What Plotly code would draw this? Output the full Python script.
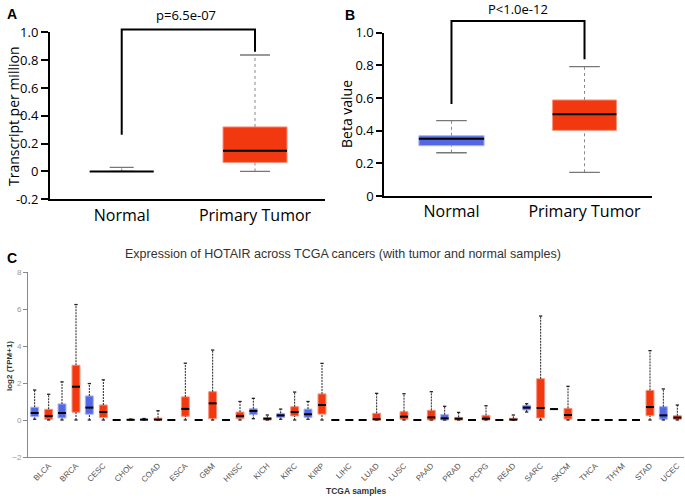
import plotly.graph_objects as go

W, H = 685, 498

# ---------------- data ----------------
ab_groups = ["Normal", "Primary Tumor"]
# panel A (Transcript per million): lo, q1, median, q3, hi
a_lo = [0.0, 0.0]
a_q1 = [0.0, 0.065]
a_med = [0.0, 0.148]
a_q3 = [0.0, 0.32]
a_hi = [0.029, 0.837]
a_p = "p=6.5e-07"

# panel B (Beta value)
b_lo = [0.265, 0.145]
b_q1 = [0.308, 0.402]
b_med = [0.351, 0.50]
b_q3 = [0.369, 0.588]
b_hi = [0.461, 0.792]
b_p = "P<1.0e-12"

# panel C (log2(TPM+1))
cancers = ["BLCA", "BRCA", "CESC", "CHOL", "COAD", "ESCA", "GBM", "HNSC", "KICH", "KIRC",
           "KIRP", "LIHC", "LUAD", "LUSC", "PAAD", "PRAD", "PCPG", "READ", "SARC", "SKCM",
           "THCA", "THYM", "STAD", "UCEC"]
n_lo = [0.04, 0, 0, 0, 0, 0, 0, 0, 0.07, 0.04, 0.04, 0, 0, 0, 0, 0, 0, 0, 0.43, 0.59, 0, 0, 0, 0]
n_q1 = [0.18, 0.11, 0.31, 0, 0, 0, 0, 0, 0.29, 0.13, 0.14, 0, 0, 0, 0, 0.0, 0, 0, 0.54, 0.59, 0, 0, 0, 0.04]
n_med = [0.38, 0.38, 0.67, 0, 0.02, 0, 0, 0, 0.49, 0.25, 0.31, 0, 0, 0, 0, 0.09, 0, 0, 0.67, 0.59, 0, 0, 0, 0.25]
n_q3 = [0.69, 0.87, 1.30, 0, 0.04, 0, 0, 0, 0.61, 0.36, 0.59, 0, 0, 0, 0, 0.29, 0, 0, 0.79, 0.59, 0, 0, 0, 0.72]
n_hi = [1.62, 2.06, 1.97, 0, 0.08, 0, 0, 0, 1.17, 0.59, 1.00, 0, 0, 0, 0, 0.74, 0, 0, 0.88, 0.59, 0, 0, 0, 1.68]

t_lo = [0] * 24
t_q1 = [0.04, 0.42, 0.13, 0, 0, 0.20, 0.07, 0.07, 0, 0.22, 0.32, 0, 0, 0.04, 0, 0, 0, 0, 0.11, 0.05, 0, 0, 0.23, 0.04]
t_med = [0.22, 1.80, 0.43, 0.01, 0.02, 0.60, 0.90, 0.22, 0.07, 0.43, 0.81, 0, 0.04, 0.18, 0.14, 0.07, 0.07, 0.02, 0.65, 0.27, 0, 0, 0.70, 0.13]
t_q3 = [0.58, 2.96, 0.81, 0.03, 0.10, 1.25, 1.53, 0.43, 0.13, 0.72, 1.41, 0.01, 0.36, 0.45, 0.52, 0.14, 0.25, 0.09, 2.23, 0.63, 0.01, 0.01, 1.60, 0.23]
t_hi = [1.39, 6.24, 2.17, 0.05, 0.50, 3.07, 3.78, 1.00, 0.27, 1.51, 3.06, 0.02, 1.44, 1.42, 1.53, 0.41, 0.77, 0.27, 5.62, 1.82, 0.02, 0.02, 3.75, 0.81]

c_title = "Expression of HOTAIR across TCGA cancers (with tumor and normal samples)"

# ---------------- styles ----------------
RED = "#F2380F"
RED_EDGE = "#F7907A"
BLUE = "#5468E6"
BLUE_EDGE = "#A9B2F2"
FONT = "Open Sans"
ARIAL = "Liberation Sans"


def px2paper_x(p):
    return p / W


def px2paper_y(p):
    return 1 - p / H


# axis layout geometry (pixels)
A_X = (50, 325); A_Y = (32.3, 199.3); A_XR = [-0.538, 1.525]; A_YR = [-0.2, 1.0]
B_X = (384.3, 651.7); B_Y = (32.7, 196); B_XR = [-0.505, 1.505]; B_YR = [0.0, 1.0]
C_X = (28, 684); C_Y = (272, 457); C_XR = [-0.5, 23.5]; C_YR = [-2, 8]


def mapper(xpx, ypx, xr, yr):
    def fx(v):
        return px2paper_x(xpx[0] + (v - xr[0]) / (xr[1] - xr[0]) * (xpx[1] - xpx[0]))

    def fy(v):
        return px2paper_y(ypx[1] - (v - yr[0]) / (yr[1] - yr[0]) * (ypx[1] - ypx[0]))
    return fx, fy


fig = go.Figure()


def add_boxes(xs, lo, q1, med, q3, hi, fill, edge, xa, ya, width, capw,
              wcolor, wdash, capcolor, medw=2):
    fig.add_trace(go.Bar(x=xs, y=[b - a for a, b in zip(q1, q3)], base=q1, width=width,
                         marker=dict(color=fill, line=dict(color=edge, width=1)),
                         xaxis=xa, yaxis=ya, showlegend=False, hoverinfo="skip"))
    wx, wy, cx, cy, mx, my = [], [], [], [], [], []
    for x, l, a, m, b, h in zip(xs, lo, q1, med, q3, hi):
        if h > b:
            wx += [x, x, None]; wy += [b, h, None]
            cx += [x - capw / 2, x + capw / 2, None]; cy += [h, h, None]
        if l < a:
            wx += [x, x, None]; wy += [l, a, None]
        cx += [x - capw / 2, x + capw / 2, None]; cy += [l, l, None]
        mx += [x - width / 2, x + width / 2, None]; my += [m, m, None]
    fig.add_trace(go.Scatter(x=wx, y=wy, mode="lines", line=dict(color=wcolor, width=1, dash=wdash),
                             xaxis=xa, yaxis=ya, showlegend=False, hoverinfo="skip"))
    fig.add_trace(go.Scatter(x=cx, y=cy, mode="lines", line=dict(color=capcolor, width=1.3),
                             xaxis=xa, yaxis=ya, showlegend=False, hoverinfo="skip"))
    fig.add_trace(go.Scatter(x=mx, y=my, mode="lines", line=dict(color="black", width=medw),
                             xaxis=xa, yaxis=ya, showlegend=False, hoverinfo="skip"))


# ---- panel A ----
add_boxes([0], a_lo[:1], a_q1[:1], a_med[:1], a_q3[:1], a_hi[:1], BLUE, BLUE_EDGE, "x", "y",
          0.48, 0.18, "#888", "dot", "#777")
add_boxes([1], a_lo[1:], a_q1[1:], a_med[1:], a_q3[1:], a_hi[1:], RED, RED_EDGE, "x", "y",
          0.48, 0.225, "#888", "dot", "#777")
# ---- panel B ----
add_boxes([0], b_lo[:1], b_q1[:1], b_med[:1], b_q3[:1], b_hi[:1], BLUE, BLUE_EDGE, "x2", "y2",
          0.49, 0.23, "#888", "dot", "#777")
add_boxes([1], b_lo[1:], b_q1[1:], b_med[1:], b_q3[1:], b_hi[1:], RED, RED_EDGE, "x2", "y2",
          0.48, 0.23, "#888", "dot", "#777")
# ---- panel C ----
OFF = 0.256
add_boxes([i - OFF for i in range(len(cancers))], n_lo, n_q1, n_med, n_q3, n_hi, BLUE, BLUE_EDGE,
          "x3", "y3", 0.29, 0.12, "#222", "2px,1px", "#222")
add_boxes([i + OFF for i in range(len(cancers))], t_lo, t_q1, t_med, t_q3, t_hi, RED, RED_EDGE,
          "x3", "y3", 0.29, 0.12, "#222", "2px,1px", "#222")

# ---------------- brackets ----------------
shapes = []
annotations = []


def bracket(fx, fy, left_low, top, right_low):
    pts = [(fx(0), fy(left_low)), (fx(0), fy(top)), (fx(1), fy(top)), (fx(1), fy(right_low))]
    path = "M " + " L ".join(f"{x:.5f},{y:.5f}" for x, y in pts)
    shapes.append(dict(type="path", path=path, xref="paper", yref="paper",
                       line=dict(color="black", width=2)))


fxA, fyA = mapper(A_X, A_Y, A_XR, A_YR)
fxB, fyB = mapper(B_X, B_Y, B_XR, B_YR)
bracket(fxA, fyA, 0.263, 1.02, 0.86)
bracket(fxB, fyB, 0.563, 1.071, 0.837)


def note(text, x, y, font, angle=0):
    annotations.append(dict(text=text, x=px2paper_x(x), y=px2paper_y(y), xref="paper", yref="paper",
                            xanchor="center", yanchor="middle", showarrow=False, textangle=angle,
                            font=font))


note(a_p, (fxA(0) + fxA(1)) / 2 * W - 2, 15, dict(family=FONT, size=13, color="black"))
note(b_p, (fxB(0) + fxB(1)) / 2 * W, 9, dict(family=FONT, size=13, color="black"))
for lab, x, y in [("A", 12, 14), ("B", 350, 15), ("C", 12, 258)]:
    note(f"<b>{lab}</b>", x, y, dict(family=ARIAL, size=14, color="black"))
note(c_title, 343, 254, dict(family=ARIAL, size=12.5, color="#333"))
note("<b>TCGA samples</b>", 356, 491, dict(family=ARIAL, size=8.5, color="#333"))
note("<b>log2 (TPM+1)</b>", 9, 366, dict(family=ARIAL, size=8, color="#333"), -90)
note("Transcript per million", 13, 116, dict(family=FONT, size=14, color="black"), -90)
note("Beta value", 347, 114, dict(family=FONT, size=14, color="black"), -90)


def dom(px_pair, horiz):
    if horiz:
        return [px_pair[0] / W, px_pair[1] / W]
    return [1 - px_pair[1] / H, 1 - px_pair[0] / H]


ab_x = dict(showline=True, linewidth=2, linecolor="black", ticks="", showgrid=False, zeroline=False,
            automargin=False,
            tickvals=[0, 1], ticktext=ab_groups, tickfont=dict(family=FONT, size=16, color="black"))
ab_y = dict(showline=True, linewidth=2, linecolor="black", ticks="outside", ticklen=7, tickwidth=2,
            tickcolor="black", showgrid=False, zeroline=False, automargin=False,
            tickfont=dict(family=FONT, size=13, color="black"))

a_ticks = [-0.2, 0, 0.2, 0.4, 0.6, 0.8, 1.0]
b_ticks = [0, 0.2, 0.4, 0.6, 0.8, 1.0]


def fmt(v):
    return "0" if v == 0 else f"{v:.1f}"


fig.update_layout(
    width=W, height=H, autosize=False, margin=dict(l=0, r=0, t=0, b=0, pad=0),
    paper_bgcolor="white", plot_bgcolor="white",
    barmode="overlay", showlegend=False, shapes=shapes, annotations=annotations,
    xaxis=dict(ab_x, domain=dom(A_X, True), range=A_XR, anchor="y"),
    yaxis=dict(ab_y, domain=dom(A_Y, False), range=A_YR, anchor="x",
               tickvals=a_ticks, ticktext=[fmt(v) for v in a_ticks]),
    xaxis2=dict(ab_x, domain=dom(B_X, True), range=B_XR, anchor="y2"),
    yaxis2=dict(ab_y, domain=dom(B_Y, False), range=B_YR, anchor="x2", ticklen=6,
                tickvals=b_ticks, ticktext=[fmt(v) for v in b_ticks]),
    xaxis3=dict(domain=dom(C_X, True), range=C_XR, anchor="y3", showline=True, linecolor="#888",
                linewidth=1, ticks="", showgrid=False, zeroline=False, automargin=False,
                tickvals=list(range(len(cancers))), ticktext=cancers, tickangle=-45,
                ticklabelshift=7, tickfont=dict(family=ARIAL, size=8, color="#555")),
    yaxis3=dict(domain=dom(C_Y, False), range=C_YR, anchor="x3", showline=True, linecolor="#888",
                linewidth=1, ticks="outside", ticklen=4, tickcolor="#888", showgrid=False,
                zeroline=False, automargin=False, tickvals=[-2, 0, 2, 4, 6, 8],
                tickfont=dict(family=ARIAL, size=8, color="#999")),
)

fig.write_html("out.html", config={"displayModeBar": False},
               post_script="document.body.style.margin='0';")
